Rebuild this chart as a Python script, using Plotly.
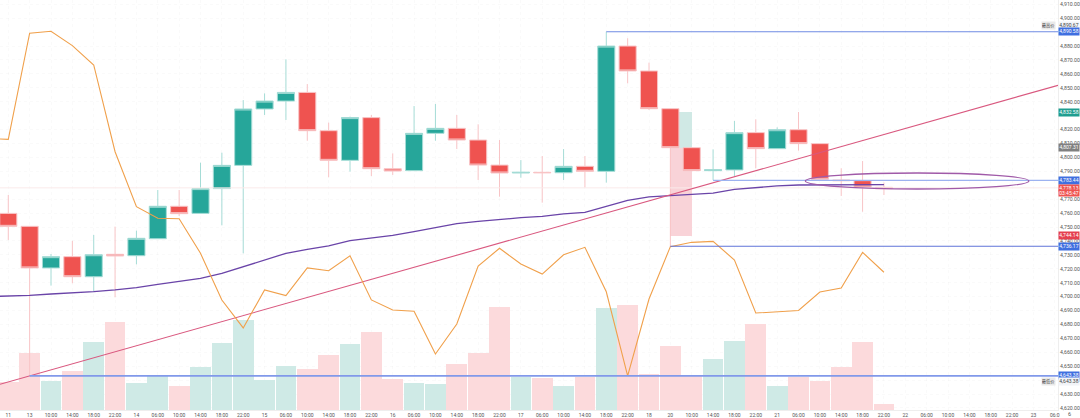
import plotly.graph_objects as go

idx = list(range(42))
opens = [4759.8,4750.5,4720.6,4728.7,4714.3,4730.4,4729.4,4741.6,4764.9,4759.8,4777.6,4794.3,4834.8,4840.5,4846.7,4819.2,4797.9,4828.6,4791.9,4790.5,4817.3,4820.9,4812.5,4794.5,4788.8,4789.3,4789.0,4793.6,4790.0,4880.0,4862.1,4835.0,4807.0,4790.5,4791.0,4817.8,4806.3,4819.9,4809.9,4783.8,4783.3,4778.5]
closes = [4750.5,4720.6,4728.7,4714.3,4730.1,4729.2,4741.9,4764.9,4759.6,4777.6,4794.3,4834.8,4840.5,4846.7,4819.2,4797.9,4828.6,4791.9,4790.2,4817.3,4820.9,4812.5,4794.5,4788.8,4789.3,4789.0,4793.6,4790.0,4880.0,4862.1,4835.0,4807.0,4790.5,4791.2,4817.8,4806.3,4819.9,4809.9,4784.3,4783.3,4778.8,4777.5]
highs = [4773.0,4750.5,4730.6,4740.0,4744.3,4750.3,4747.4,4776.6,4776.6,4796.2,4803.4,4841.2,4846.0,4870.5,4852.7,4825.0,4829.3,4830.5,4802.9,4836.9,4838.4,4830.5,4823.8,4812.5,4798.1,4801.0,4806.0,4801.0,4890.3,4885.6,4868.1,4835.0,4807.0,4805.8,4826.2,4827.4,4821.6,4832.6,4809.9,4792.2,4797.4,4781.9]
lows = [4740.7,4643.4,4707.9,4709.6,4703.6,4699.5,4723.2,4741.6,4757.9,4759.8,4751.2,4731.1,4830.5,4826.9,4812.0,4785.7,4789.8,4786.6,4787.4,4790.5,4812.0,4806.0,4783.8,4771.8,4785.4,4767.5,4783.8,4778.3,4781.9,4853.2,4834.1,4735.9,4790.5,4783.8,4786.2,4792.2,4806.3,4804.9,4784.3,4772.3,4761.0,4773.0]
volumes = [28,57,29,39,68,88,27,34,24,43,67,90,30,44,41,55,66,78,31,27,26,46,57,103,33,32,24,33,102,105,36,64,34,51,69,86,24,33,29,43,68,6]
vol_dir = list("PPGPGPGGPGGGGGPPGPPGGPPPGPGPGPPPPGGPGPPPPP")[:42]

osc_x = [-1] + idx
osc = [4813.7,4813.0,4889.2,4890.6,4880.3,4866.4,4804.1,4764.6,4756.3,4756.0,4731.1,4697.6,4677.5,4704.8,4700.7,4720.6,4718.6,4729.4,4697.6,4690.4,4689.5,4658.8,4680.3,4722.0,4734.7,4723.4,4716.2,4730.1,4735.4,4703.5,4643.0,4698.3,4735.9,4739.0,4739.7,4726.3,4688.2,4688.9,4690.0,4703.3,4706.2,4731.8,4717.5]
ma = [4700.0,4700.2,4700.9,4701.9,4702.6,4703.6,4704.8,4706.4,4708.8,4710.7,4713.1,4716.7,4721.5,4726.8,4731.1,4734.0,4736.4,4740.2,4742.3,4744.0,4746.7,4749.8,4752.4,4754.1,4755.5,4756.7,4757.7,4759.4,4760.5,4765.1,4769.2,4771.6,4772.7,4773.7,4774.4,4777.1,4778.5,4779.5,4780.2,4780.2,4780.7,4780.4,4780.4]

X_MIN, X_MAX = -0.388, 49.15
trend_x = [X_MIN, X_MAX]
trend_y = [4637.0, 4851.8]
current_price = 4778.13
hline_starts = [28, 33, 31, 1]
hline_values = [4890.3, 4783.44, 4736.17, 4643.0]
hline_widths = [1.1, 1.3, 1.1, 1.7]
hline_colors = ["#6f8be3", "#9db2f0", "#5f73d8", "#8199ea"]

ellipse_x = [37.32, 47.79]
ellipse_y = [4777.3, 4788.8]

box_x = [31.5, 31.72]
box_w = [1.03, 0.6]
box_base = [4743.8, 4807.0]
box_h = [63.2, 25.9]
box_col = ["#f9d3d8", "#d0e9e5"]

y_ticks = [4620,4630,4640,4650,4660,4670,4680,4690,4700,4710,4720,4730,4740,4750,4760,4770,4790,4800,4810,4820,4840,4850,4860,4870,4880,4900,4910]
x_ticks = list(range(50))
x_labels = ["11","13","10:00","14:00","18:00","22:00","14","06:00","10:00","14:00","18:00","22:00","15","06:00","10:00","14:00","18:00","22:00","16","06:00","10:00","14:00","18:00","22:00","17","06:00","10:00","14:00","18:00","22:00","18","20","10:00","14:00","18:00","22:00","21","06:00","10:00","14:00","18:00","22:00","22","06:00","10:00","14:00","18:00","22:00","23","06:0"]

FONT = "Roboto"
fig = go.Figure()

fig.add_trace(go.Bar(x=idx, y=volumes, width=0.97, yaxis="y",
                     marker=dict(color=["#cfeae6" if d == "G" else "#fcdadc" for d in vol_dir], line_width=0),
                     hoverinfo="skip", showlegend=False))
fig.add_trace(go.Bar(x=box_x, y=box_h, base=box_base, width=box_w, yaxis="y2",
                     marker=dict(color=box_col, line_width=0), hoverinfo="skip", showlegend=False))
fig.add_trace(go.Scatter(x=[X_MIN, X_MAX], y=[current_price]*2, yaxis="y2", mode="lines",
                         line=dict(color="#faeaea", width=1), hoverinfo="skip", showlegend=False))
fig.add_trace(go.Candlestick(x=idx, open=opens, high=highs, low=lows, close=closes, yaxis="y2",
                             increasing=dict(fillcolor="#26a69a", line=dict(color="#a5dcd6", width=1)),
                             decreasing=dict(fillcolor="#ef5350", line=dict(color="#f8c4c6", width=1)),
                             whiskerwidth=0, showlegend=False))
fig.add_trace(go.Scatter(x=osc_x, y=ma, yaxis="y2", mode="lines",
                         line=dict(color="#6a44a8", width=1.3), hoverinfo="skip", showlegend=False))
fig.add_trace(go.Scatter(x=trend_x, y=trend_y, yaxis="y2", mode="lines",
                         line=dict(color="#d9587f", width=1.1), hoverinfo="skip", showlegend=False))
fig.add_trace(go.Scatter(x=osc_x, y=osc, yaxis="y2", mode="lines",
                         line=dict(color="#f0a04b", width=1.1), hoverinfo="skip", showlegend=False))
for s, v, w, c in zip(hline_starts, hline_values, hline_widths, hline_colors):
    fig.add_trace(go.Scatter(x=[s, X_MAX], y=[v, v], yaxis="y2", mode="lines",
                             line=dict(color=c, width=w), hoverinfo="skip", showlegend=False))

fig.add_shape(type="circle", xref="x", yref="y2", x0=ellipse_x[0], x1=ellipse_x[1],
              y0=ellipse_y[0], y1=ellipse_y[1], line=dict(color="#a05aa8", width=1.3))

def tag(value, text, bg, fg="white", w=20, h=6.5, x=1.0, anchor="left"):
    fig.add_annotation(xref="x domain", yref="y2", x=x, y=value, xanchor=anchor, yanchor="middle",
                       text=text, showarrow=False, bgcolor=bg, borderpad=0, width=w, height=h,
                       font=dict(family=FONT, size=5, color=fg), align="center")

tag(4894.9, "4,890.67", "#f2f4f8", "#444")
tag(4890.3, "4,890.58", "#3f6fe0")
tag(4832.58, "4,832.58", "#1f9d8f")
tag(4806.8, "4,807.31", "#808080")
tag(4783.44, "4,783.44", "#3f6fe0")
tag(4778.3, "4,778.13", "#ef5350", h=6)
tag(4774.2, "03:45:47", "#ef5350", h=6)
tag(4743.8, "4,744.14", "#e5404f")
tag(4736.17, "4,736.17", "#3f6fe0")
tag(4643.0, "4,643.38", "#3f6fe0")
tag(4639.0, "4,643.38", "#f2f4f8", "#444")
fig.add_annotation(xref="x domain", yref="y2", x=0.9985, y=4894.9, xanchor="right", yanchor="middle",
                   text="最高价", showarrow=False, bgcolor="#e9e9e9", borderpad=0, width=13, height=6.5,
                   font=dict(family="Noto Sans CJK SC", size=4.2, color="#444"))
fig.add_annotation(xref="x domain", yref="y2", x=0.9985, y=4639.0, xanchor="right", yanchor="middle",
                   text="最低价", showarrow=False, bgcolor="#e9e9e9", borderpad=0, width=13, height=6.5,
                   font=dict(family="Noto Sans CJK SC", size=4.2, color="#444"))
fig.add_annotation(xref="paper", yref="paper", x=1072/1060, y=-4/410, xanchor="center", yanchor="middle",
                   text="6", showarrow=False, font=dict(family=FONT, size=5.5, color="#555"))

fig.update_layout(
    width=1080, height=418, margin=dict(l=0, r=20, t=0, b=8, pad=0),
    paper_bgcolor="white", plot_bgcolor="white", barmode="overlay", bargap=0,
    boxgap=0.2, boxgroupgap=0, boxmode="overlay", showlegend=False, hovermode=False,
    font=dict(family=FONT, size=5.2, color="#555"),
    xaxis=dict(range=[X_MIN, X_MAX], tickmode="array", tickvals=x_ticks, ticktext=x_labels, tickangle=0,
               rangeslider=dict(visible=False), showgrid=True, gridcolor="rgba(0,0,0,0.018)", griddash="dot",
               showline=True, linecolor="#eeeeee", ticks="", zeroline=False,
               tickfont=dict(family=FONT, size=5, color="#555")),
    yaxis=dict(range=[0, 410], visible=False, fixedrange=True),
    yaxis2=dict(range=[4618.55, 4913.09], overlaying="y", side="right", anchor="x", tickmode="array",
                tickvals=y_ticks, tickformat=",.2f", showgrid=True, gridcolor="rgba(0,0,0,0.018)", griddash="dot",
                showline=True, linecolor="#eeeeee", ticks="", ticklen=0, zeroline=False,
                tickfont=dict(family=FONT, size=5.2, color="#555")),
)

fig.write_html("out.html", config=dict(displayModeBar=False),
               post_script="document.body.style.margin='0';document.documentElement.style.overflow='hidden';")
